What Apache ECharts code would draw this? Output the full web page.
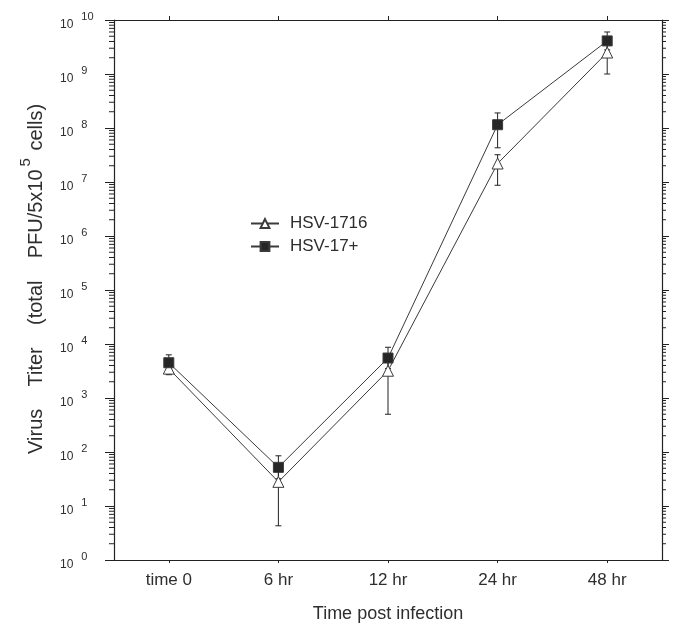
<!DOCTYPE html>
<html><head><meta charset="utf-8">
<script src="https://cdn.jsdelivr.net/npm/echarts@6/dist/echarts.min.js"></script>
<style>html,body{margin:0;padding:0;background:#fff}#c{width:674px;height:625px}</style>
</head><body><div id="c"></div>
<script>
const categories = ['time 0', '6 hr', '12 hr', '24 hr', '48 hr'];
const hsv1716 = [3500, 28, 3200, 2.2e7, 2.5e9];
const hsv1716Low = [2700, 4.3, 500, 8.7e6, 1.0e9];
const hsv1716High = [4500, 45, 6300, 3.2e7, 4.0e9];
const hsv17 = [4500, 52, 5500, 1.15e8, 4.1e9];
const hsv17Low = [3200, 32, 3500, 4.3e7, 2.8e9];
const hsv17High = [6300, 85, 8700, 1.9e8, 6.0e9];
const yMin = 1, yMax = 1e10;

const ink = '#222';
const txt = '#2e2e2e';
const font = 'Liberation Sans, Arial, sans-serif';

function errData(lo, hi) { return lo.map((l, i) => [i, l, hi[i]]); }
function errRender(params, api) {
  const a = api.coord([api.value(0), api.value(1)]);
  const b = api.coord([api.value(0), api.value(2)]);
  const w = 3;
  const st = { stroke: ink, lineWidth: 1 };
  return { type: 'group', children: [
    { type: 'line', shape: { x1: a[0], y1: a[1], x2: b[0], y2: b[1] }, style: st },
    { type: 'line', shape: { x1: a[0] - w, y1: a[1], x2: a[0] + w, y2: a[1] }, style: st },
    { type: 'line', shape: { x1: b[0] - w, y1: b[1], x2: b[0] + w, y2: b[1] }, style: st }
  ]};
}
// minor log ticks (2..9 x 10^k)
const minorVals = [];
for (let k = 0; k < 10; k++) for (let m = 2; m <= 9; m++) minorVals.push([0, m * Math.pow(10, k)]);
function minorRender(params, api) {
  const cs = params.coordSys;
  const y = api.coord([0, api.value(1)])[1];
  const st = { stroke: ink, lineWidth: 1 };
  return { type: 'group', children: [
    { type: 'line', shape: { x1: cs.x - 5, y1: y, x2: cs.x, y2: y }, style: st },
    { type: 'line', shape: { x1: cs.x + cs.width, y1: y, x2: cs.x + cs.width + 4, y2: y }, style: st }
  ]};
}

const chart = echarts.init(document.getElementById('c'));
chart.setOption({
  backgroundColor: '#fff',
  animation: false,
  textStyle: { fontFamily: font },
  grid: { left: 114, right: 12, top: 20, bottom: 65, containLabel: false, outerBoundsMode: 'none' },
  legend: {
    data: ['HSV-1716', 'HSV-17+'], orient: 'vertical', left: 245, top: 210,
    itemWidth: 28, itemHeight: 11, itemGap: 6,
    textStyle: { fontSize: 17, color: txt, fontFamily: font, padding: [0, 0, 0, 6] }
  },
  xAxis: [{
    type: 'category', data: categories, boundaryGap: true,
    axisLine: { lineStyle: { color: ink, width: 1.2 } },
    axisTick: { show: true, alignWithLabel: true, length: 3, lineStyle: { color: ink } },
    axisLabel: { color: txt, fontSize: 17, margin: 12, fontFamily: font },
    name: 'Time post infection', nameLocation: 'middle', nameGap: 45,
    nameTextStyle: { color: txt, fontSize: 18, fontFamily: font }
  }, {
    type: 'category', data: categories, position: 'top', boundaryGap: true,
    axisLine: { lineStyle: { color: ink, width: 1.2 } },
    axisTick: { show: true, alignWithLabel: true, length: 4, lineStyle: { color: ink } },
    axisLabel: { show: false }
  }],
  yAxis: [{
    type: 'log', logBase: 10, min: yMin, max: yMax, interval: 1, position: 'left',
    axisLine: { show: true, lineStyle: { color: ink, width: 1.2 } },
    axisTick: { show: true, length: 9, lineStyle: { color: ink } },
    splitLine: { show: false },
    axisLabel: {
      margin: 54, align: 'left', color: txt, fontFamily: font, padding: [2, 0, 0, 0],
      formatter: v => '{b|10}{e|' + Math.round(Math.log10(v)) + '}',
      rich: {
        b: { fontSize: 12, color: txt, fontFamily: font, lineHeight: 20, verticalAlign: 'bottom' },
        e: { fontSize: 11, color: txt, fontFamily: font, lineHeight: 20, verticalAlign: 'top', padding: [0, 0, 0, 8] }
      }
    },
    name: '{a|    Virus    Titer    (total    PFU/5x10}{s|5}{a| cells)}', nameLocation: 'middle', nameGap: 68, nameRotate: 90,
    nameTextStyle: {
      rich: {
        a: { fontSize: 20, color: txt, fontFamily: font, lineHeight: 28, verticalAlign: 'bottom' },
        s: { fontSize: 15, color: txt, fontFamily: font, lineHeight: 28, verticalAlign: 'top', padding: [0, 2, 0, 3] }
      }
    }
  }, {
    type: 'log', logBase: 10, min: yMin, max: yMax, interval: 1, position: 'right',
    axisLine: { show: true, lineStyle: { color: ink, width: 1.2 } },
    axisTick: { show: true, length: 7, lineStyle: { color: ink } },
    splitLine: { show: false }, axisLabel: { show: false }
  }],
  series: [
    { name: 'minorTicks', type: 'custom', renderItem: minorRender, data: minorVals, silent: true, clip: false, z: 1 },
    { name: 'err1716', type: 'custom', renderItem: errRender, data: errData(hsv1716Low, hsv1716High), silent: true, z: 2 },
    { name: 'err17', type: 'custom', renderItem: errRender, data: errData(hsv17Low, hsv17High), silent: true, z: 2 },
    {
      name: 'HSV-1716', type: 'line', data: hsv1716, z: 3,
      symbol: 'triangle', symbolSize: 11, showAllSymbol: true,
      lineStyle: { color: '#3a3a3a', width: 1 },
      itemStyle: { color: '#fff', borderColor: '#3a3a3a', borderWidth: 1 }
    },
    {
      name: 'HSV-17+', type: 'line', data: hsv17, z: 4,
      symbol: 'rect', symbolSize: 10, showAllSymbol: true,
      lineStyle: { color: '#3a3a3a', width: 1 },
      itemStyle: { color: '#262626', borderColor: '#3a3a3a', borderWidth: 1 }
    }
  ]
});
</script></body></html>
